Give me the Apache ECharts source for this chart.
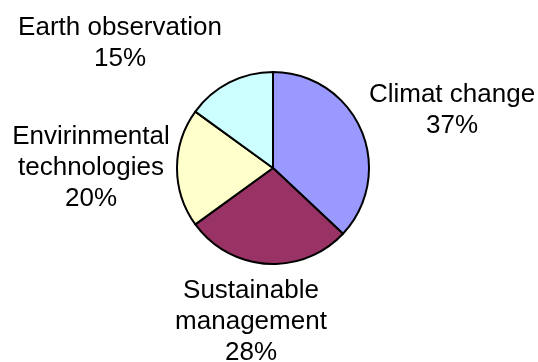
<!DOCTYPE html>
<html>
<head>
<meta charset="utf-8">
<script src="https://cdn.jsdelivr.net/npm/echarts@6/dist/echarts.min.js"></script>
<style>
  html, body { margin: 0; padding: 0; background: #ffffff; }
  #chart { width: 538px; height: 362px; }
</style>
</head>
<body>
<div id="chart"></div>
<script>
// Research areas and their share of the total (percent)
const categories = ['Climat change', 'Sustainable\nmanagement', 'Envirinmental\ntechnologies', 'Earth observation'];
const shares = [37, 28, 20, 15];
const sliceColors = ['#9999FF', '#993366', '#FFFFCC', '#CCFFFF'];

// Where each label block sits (centre x, top y)
const labelSpots = [[452, 79], [251, 275], [91, 121], [120, 12]];

const chart = echarts.init(document.getElementById('chart'), null, { renderer: 'canvas' });

chart.setOption({
  animation: false,
  backgroundColor: '#ffffff',
  series: [{
    type: 'pie',
    center: [273, 168],
    radius: 96,
    startAngle: 90,
    clockwise: true,
    avoidLabelOverlap: false,
    silent: true,
    data: categories.map((name, i) => ({
      name: name,
      value: shares[i],
      itemStyle: { color: sliceColors[i] }
    })),
    itemStyle: { borderColor: '#000000', borderWidth: 2 },
    label: {
      show: true,
      position: 'outside',
      formatter: p => p.name + '\n' + p.value + '%',
      fontFamily: 'Arial, "Liberation Sans", sans-serif',
      fontSize: 26,
      lineHeight: 31,
      color: '#000000',
      align: 'center'
    },
    labelLine: { show: false },
    labelLayout: p => ({
      x: labelSpots[p.dataIndex][0],
      y: labelSpots[p.dataIndex][1],
      align: 'center',
      verticalAlign: 'top'
    })
  }]
});
</script>
</body>
</html>
